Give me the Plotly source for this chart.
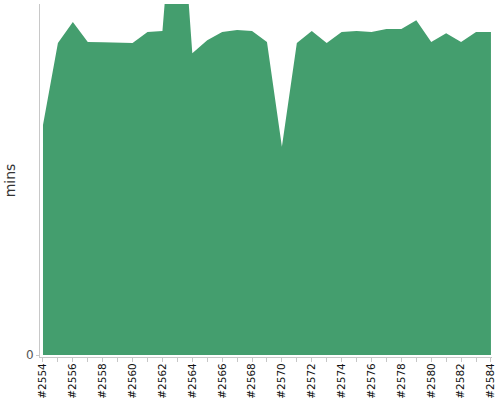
import plotly.graph_objects as go

builds = ["#%d" % n for n in range(2554, 2585)]
mins = [65.5, 88.9, 94.9, 89.2, 89.1, 88.9, 88.9, 92.0, 92.3, 145.0,
        86.0, 89.7, 92.0, 92.6, 92.3, 89.2, 59.3, 88.9, 92.3, 88.9,
        92.0, 92.3, 92.0, 92.9, 92.9, 95.4, 89.2, 91.7, 89.2, 92.0, 92.0]

idx = list(range(len(builds)))
ticktext = [b if i % 2 == 0 else "" for i, b in enumerate(builds)]

fig = go.Figure()
fig.add_trace(go.Scatter(
    x=idx, y=mins, mode="lines", fill="tozeroy",
    line=dict(width=0, color="#449E6E"), fillcolor="#449E6E",
    hoverinfo="skip", showlegend=False,
))

fig.update_layout(
    width=500, height=400,
    margin=dict(l=40, r=8, t=4, b=43, autoexpand=False),
    plot_bgcolor="white", paper_bgcolor="white",
    font=dict(family="DejaVu Sans", size=11, color="#222"),
)
fig.update_xaxes(
    range=[-0.2, 30.07], tickvals=idx, ticktext=ticktext, tickangle=-90,
    showgrid=False, zeroline=False, showline=True, linecolor="#c8c8c8",
    ticks="outside", ticklen=4, tickcolor="#c8c8c8",
    tickfont=dict(family="DejaVu Sans", size=10.5, color="#111"),
    automargin=False, ticklabeloverflow="allow", ticklabelstandoff=-3,
)
fig.update_yaxes(
    range=[-0.57, 100], tickvals=[0], ticktext=["0"],
    showgrid=False, zeroline=False, showline=True, linecolor="#c8c8c8",
    ticks="outside", ticklen=3, tickcolor="#c8c8c8",
    tickfont=dict(family="DejaVu Sans", size=12, color="#555"),
    automargin=False,
    title=dict(text="mins", font=dict(family="DejaVu Sans", size=14, color="#333"), standoff=7),
)

fig.write_html("out.html", config={"displayModeBar": False},
               post_script="document.body.style.margin='0';")
